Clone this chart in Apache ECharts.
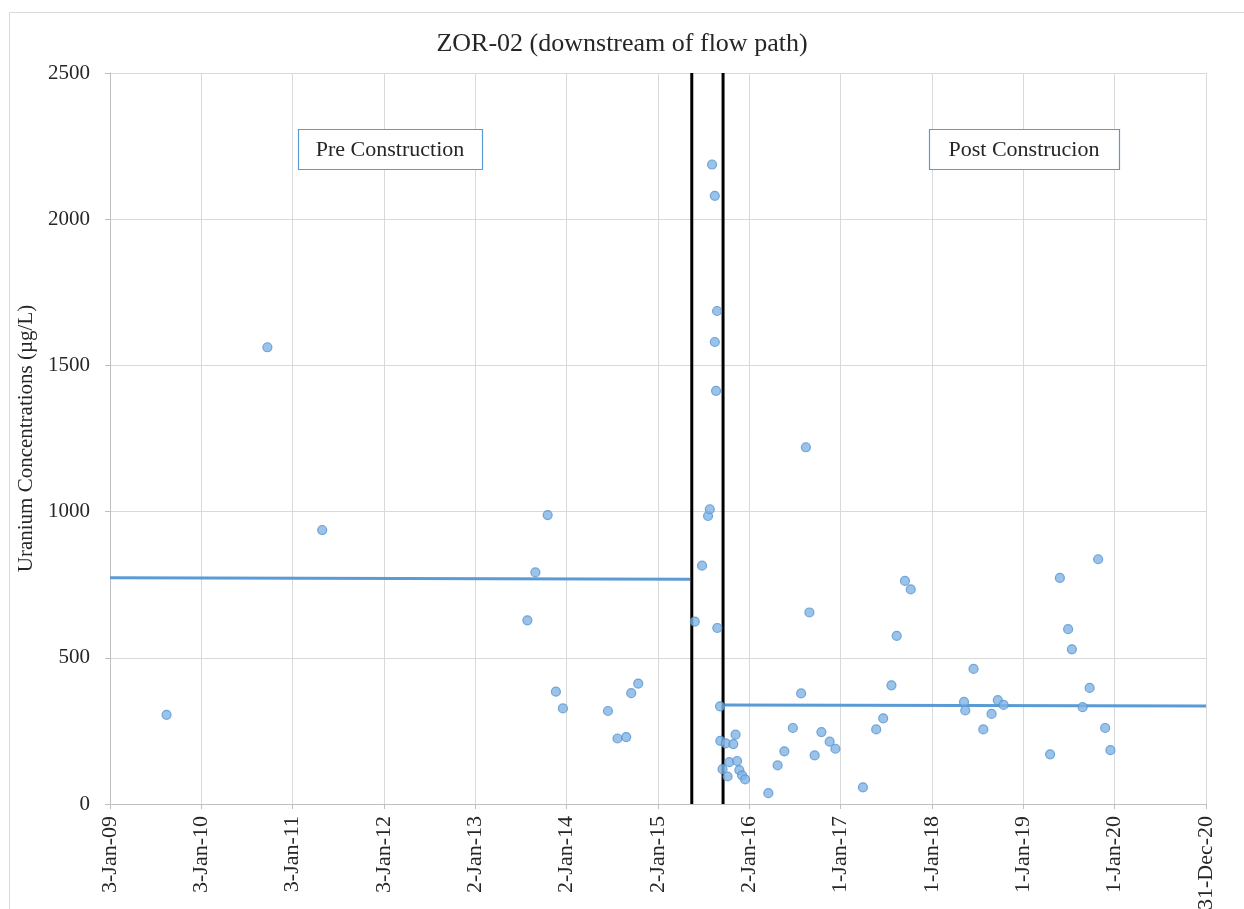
<!DOCTYPE html>
<html>
<head>
<meta charset="utf-8">
<script src="https://cdn.jsdelivr.net/npm/echarts@6/dist/echarts.min.js"></script>
<style>
  html, body { margin: 0; padding: 0; background: #fff; }
  #chart { width: 1244px; height: 909px; }
</style>
</head>
<body>
<div id="chart"></div>
<script>
// ---- Data ----
const sampleDates = [
  "2009-08-17","2010-09-24","2011-05-01","2013-07-29","2013-08-30","2013-10-18","2013-11-20","2013-12-18",
  "2014-06-16","2014-07-24","2014-08-28","2014-09-17","2014-10-15",
  "2015-05-29","2015-06-27","2015-07-21","2015-07-28","2015-08-06","2015-08-17","2015-08-17","2015-08-22",
  "2015-08-26","2015-08-27","2015-09-07","2015-09-08","2015-09-17",
  "2015-09-30","2015-10-07","2015-10-14","2015-10-30","2015-11-08","2015-11-14","2015-11-23","2015-12-04","2015-12-16",
  "2016-03-18","2016-04-24","2016-05-21","2016-06-24","2016-07-27","2016-08-15","2016-08-29","2016-09-19","2016-10-16",
  "2016-11-18","2016-12-11",
  "2017-03-31","2017-05-23","2017-06-20","2017-07-23","2017-08-13","2017-09-15","2017-10-08",
  "2018-05-09","2018-05-14","2018-06-16","2018-07-25","2018-08-27","2018-09-21","2018-10-14",
  "2019-04-18","2019-05-27","2019-06-29","2019-07-14","2019-08-26","2019-09-23","2019-10-27","2019-11-24","2019-12-15"
];
const uraniumValues = [
  305,1562,937,628,792,988,384,327,
  318,224,229,379,412,
  624,815,985,1008,2187,2080,1580,1413,
  1686,602,334,216,119,
  207,94,143,205,237,147,116,98,84,
  37,132,180,260,378,1220,655,166,246,
  213,189,
  57,255,293,406,575,763,734,
  349,320,462,255,308,355,339,
  170,773,598,529,331,397,837,260,184
];
const preTrendDates = ["2009-01-03","2015-05-10"];
const preTrendValues = [774,769];
const postTrendDates = ["2015-09-19","2020-12-31"];
const postTrendValues = [339,335];
const constructionDates = ["2015-05-17","2015-09-19"];
const yRange = [0, 2500];
const xStartDate = "2009-01-03";
const xEndDate = "2020-12-31";
const monthNames = ["Jan","Feb","Mar","Apr","May","Jun","Jul","Aug","Sep","Oct","Nov","Dec"];
const titleText = "ZOR-02 (downstream of flow path)";
const yAxisTitle = "Uranium Concentrations (µg/L)";
const preLabel = "Pre Construction";
const postLabel = "Post Construcion";

// ---- helpers ----
function utc(s){ const p = s.split('-').map(Number); return Date.UTC(p[0], p[1]-1, p[2]); }
const BASE = utc(xStartDate);
function dayOf(s){ return Math.round((utc(s) - BASE) / 86400000); }
function fmtDay(v){
  const d = new Date(BASE + Math.round(v) * 86400000);
  const yy = String(d.getUTCFullYear() % 100).padStart(2,'0');
  return d.getUTCDate() + '-' + monthNames[d.getUTCMonth()] + '-' + yy;
}

const FONT = '"Liberation Serif", "Times New Roman", serif';
const chart = echarts.init(document.getElementById('chart'), null, { renderer: 'canvas' });

const scatterData = sampleDates.map((d, i) => [dayOf(d), uraniumValues[i]]);
const preTrend = preTrendDates.map((d, i) => [dayOf(d), preTrendValues[i]]);
const postTrend = postTrendDates.map((d, i) => [dayOf(d), postTrendValues[i]]);
const vLines = constructionDates.map(d => ({
  type: 'line', silent: true, showSymbol: false, symbol: 'none', z: 4,
  lineStyle: { color: '#000', width: 3 },
  data: [[dayOf(d), yRange[0]], [dayOf(d), yRange[1]]]
}));

chart.setOption({
  animation: false,
  backgroundColor: '#fff',
  title: {
    text: titleText, left: 'center', top: 26,
    textStyle: { fontFamily: FONT, fontSize: 26, fontWeight: 'normal', color: '#262626' }
  },
  grid: { left: 110, right: 38, top: 73, bottom: 105, containLabel: false, outerBoundsMode: 'none' },
  xAxis: {
    type: 'value', min: 0, max: dayOf(xEndDate), interval: 365,
    axisLine: { show: true, onZero: false, lineStyle: { color: '#bfbfbf', width: 1 } },
    axisTick: { show: true, length: 5, lineStyle: { color: '#bfbfbf' } },
    splitLine: { show: true, lineStyle: { color: '#d9d9d9', width: 1 } },
    axisLabel: {
      rotate: 90, margin: 12, fontFamily: FONT, fontSize: 22, color: '#262626',
      formatter: fmtDay, showMinLabel: true, showMaxLabel: true
    }
  },
  yAxis: {
    type: 'value', min: yRange[0], max: yRange[1], interval: 500,
    name: yAxisTitle, nameLocation: 'middle', nameGap: 68,
    nameTextStyle: { fontFamily: FONT, fontSize: 21, color: '#262626' },
    axisLine: { show: true, lineStyle: { color: '#bfbfbf', width: 1 } },
    axisTick: { show: true, length: 5, lineStyle: { color: '#bfbfbf' } },
    splitLine: { show: true, lineStyle: { color: '#d9d9d9', width: 1 } },
    axisLabel: { margin: 20, fontFamily: FONT, fontSize: 21, color: '#262626',
      formatter: v => String(v) }
  },
  graphic: [
    { type: 'rect', z: -10, silent: true, shape: { x: 9.5, y: 12.5, width: 1400, height: 1200 },
      style: { fill: 'none', stroke: '#d9d9d9', lineWidth: 1 } },
    { type: 'rect', z: 10, shape: { x: 298.5, y: 129.5, width: 184, height: 40 },
      style: { fill: '#fff', stroke: '#5B9BD5', lineWidth: 1.2 } },
    { type: 'text', z: 11, x: 390, y: 150,
      style: { text: preLabel, fontFamily: FONT, fontSize: 22, fill: '#262626', align: 'center', verticalAlign: 'middle' } },
    { type: 'rect', z: 10, shape: { x: 929.5, y: 129.5, width: 190, height: 40 },
      style: { fill: '#fff', stroke: '#5B9BD5', lineWidth: 1.2 } },
    { type: 'text', z: 11, x: 1024, y: 150,
      style: { text: postLabel, fontFamily: FONT, fontSize: 22, fill: '#262626', align: 'center', verticalAlign: 'middle' } }
  ],
  series: [
    { type: 'line', name: 'pre trend', silent: true, showSymbol: false, symbol: 'none', z: 2,
      lineStyle: { color: '#5B9BD5', width: 3 }, data: preTrend },
    { type: 'line', name: 'post trend', silent: true, showSymbol: false, symbol: 'none', z: 2,
      lineStyle: { color: '#5B9BD5', width: 3 }, data: postTrend },
    ...vLines,
    { type: 'scatter', name: 'Uranium', z: 6, symbol: 'circle', symbolSize: 9,
      itemStyle: { color: '#82b3e2', borderColor: '#5596d2', borderWidth: 1.2 },
      data: scatterData }
  ]
});
</script>
</body>
</html>
